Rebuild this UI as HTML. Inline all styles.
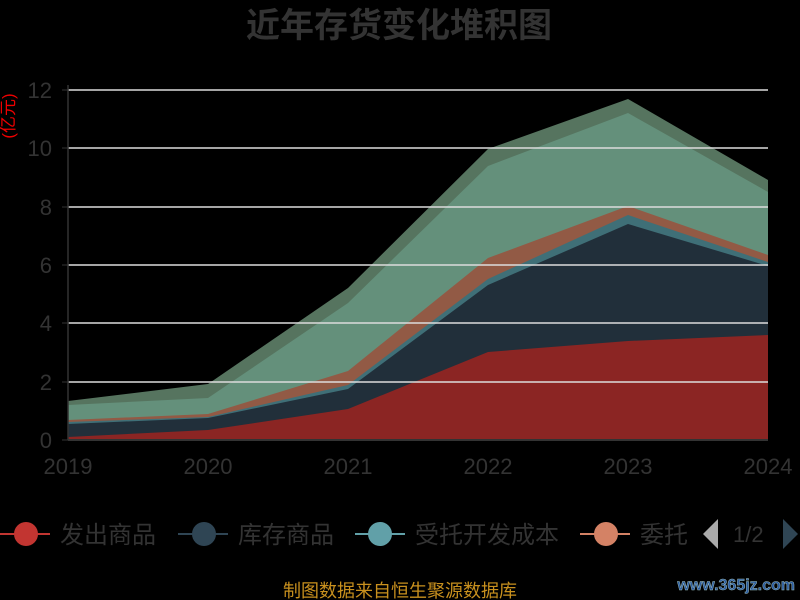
<!DOCTYPE html>
<html><head><meta charset="utf-8"><style>
body{margin:0;background:#000;}
svg{display:block;font-family:"Liberation Sans","Noto Sans CJK SC",sans-serif;}
</style></head><body>
<svg width="800" height="600" viewBox="0 0 800 600">
<rect width="800" height="600" fill="#000"/>
<text x="399" y="37" text-anchor="middle" font-size="34" font-weight="bold" fill="#333">近年存货变化堆积图</text>
<text transform="translate(14,116) rotate(-90)" text-anchor="middle" font-size="17" fill="#e00">(亿元)</text>
<polygon fill="#56745f" points="68,401 208,384 348,288 488,149 628,99 768,180 768,440 68,440"/>
<polygon fill="#64907b" points="68,405 208,398 348,303 488,166 628,113 768,192 768,440 68,440"/>
<polygon fill="#925a45" points="68,420 208,414 348,371 488,258 628,206 768,255 768,440 68,440"/>
<polygon fill="#3f6f77" points="68,422 208,417 348,385 488,279 628,215 768,262 768,440 68,440"/>
<polygon fill="#212f3a" points="68,424 208,418 348,389 488,285 628,224 768,266 768,440 68,440"/>
<polygon fill="#8b2523" points="68,437 208,430 348,409 488,352 628,341 768,335 768,440 68,440"/>
<g stroke="#ddd" stroke-width="2" opacity="0.75">
<line x1="68" y1="90" x2="768" y2="90"/><line x1="68" y1="148" x2="768" y2="148"/>
<line x1="68" y1="207" x2="768" y2="207"/><line x1="68" y1="265" x2="768" y2="265"/>
<line x1="68" y1="323" x2="768" y2="323"/><line x1="68" y1="382" x2="768" y2="382"/>
</g>
<line x1="68" y1="440" x2="768" y2="440" stroke="#333" stroke-width="2"/>
<line x1="68" y1="85" x2="68" y2="440" stroke="#333" stroke-width="1.5"/>
<g stroke="#333"><line x1="62" y1="90" x2="68" y2="90"/><line x1="62" y1="148" x2="68" y2="148"/><line x1="62" y1="207" x2="68" y2="207"/><line x1="62" y1="265" x2="68" y2="265"/><line x1="62" y1="323" x2="68" y2="323"/><line x1="62" y1="382" x2="68" y2="382"/><line x1="62" y1="440" x2="68" y2="440"/></g>
<g font-size="22" fill="#333" text-anchor="end">
<text x="52" y="98">12</text><text x="52" y="156">10</text><text x="52" y="215">8</text><text x="52" y="273">6</text><text x="52" y="331">4</text><text x="52" y="390">2</text><text x="52" y="448">0</text>
</g>
<g font-size="22" fill="#333" text-anchor="middle">
<text x="68" y="474">2019</text><text x="208" y="474">2020</text><text x="348" y="474">2021</text><text x="488" y="474">2022</text><text x="628" y="474">2023</text><text x="768" y="474">2024</text>
</g>
<g font-size="24" fill="#333">
<line x1="0" y1="534" x2="50" y2="534" stroke="#c23531" stroke-width="2"/><circle cx="26" cy="534" r="12" fill="#c23531"/><text x="60" y="543">发出商品</text>
<line x1="178" y1="534" x2="228" y2="534" stroke="#2f4554" stroke-width="2"/><circle cx="204" cy="534" r="12" fill="#2f4554"/><text x="238" y="543">库存商品</text>
<line x1="355" y1="534" x2="405" y2="534" stroke="#61a0a8" stroke-width="2"/><circle cx="380" cy="534" r="12" fill="#61a0a8"/><text x="415" y="543">受托开发成本</text>
<line x1="580" y1="534" x2="630" y2="534" stroke="#d48265" stroke-width="2"/><circle cx="606" cy="534" r="12" fill="#d48265"/><text x="640" y="543">委托</text>
<polygon points="703,534 718,519 718,549" fill="#aaa"/>
<text x="733" y="542" font-size="22">1/2</text>
<polygon points="783,519 798,534 783,549" fill="#2f4554"/>
</g>
<text x="400" y="597" text-anchor="middle" font-size="18" fill="#c8901e">制图数据来自恒生聚源数据库</text>
<text x="795" y="590" text-anchor="end" font-size="16" font-weight="bold" fill="#2a5aa0" stroke="#9bb" stroke-width="0.5">www.365jz.com</text>
</svg>
</body></html>
